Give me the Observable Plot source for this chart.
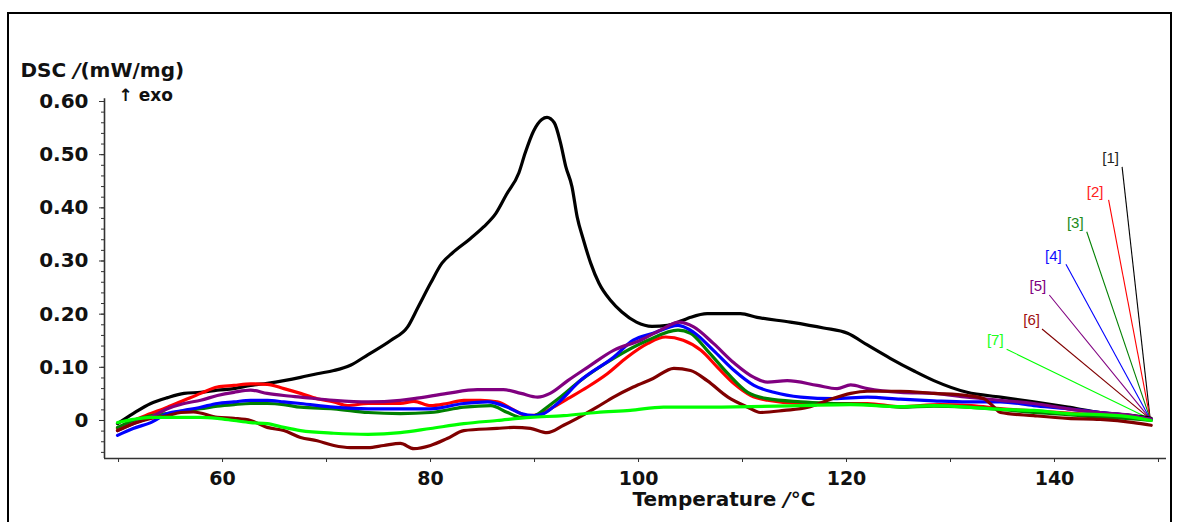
<!DOCTYPE html>
<html>
<head>
<meta charset="utf-8">
<script src="https://cdn.jsdelivr.net/npm/d3@7"></script>
<script src="https://cdn.jsdelivr.net/npm/@observablehq/plot@0.6"></script>
<style>
  html, body { margin: 0; padding: 0; background: #fff; overflow: hidden; width: 1184px; height: 522px; }
  #frame { position: absolute; left: 7px; top: 12px; width: 1165px; height: 600px; border: 2px solid #000; box-sizing: border-box; }
  #chart { position: absolute; left: 0; top: 0; }
</style>
</head>
<body>
<div id="frame"></div>
<div id="chart"></div>
<script>
// ---- Data (Temperature in °C, DSC in mW/mg) ----
const seriesIds = ["[1]", "[2]", "[3]", "[4]", "[5]", "[6]", "[7]"];
const seriesColors = ["#000000", "#ff0000", "#008000", "#0000ff", "#800080", "#800000", "#00ff00"];
const labelColors = ["#222222", "#ff2020", "#208a20", "#1010ff", "#800080", "#a01010", "#20ff20"];

const temp1 = [49.9, 51.4, 53.1, 54.7, 56.3, 57.9, 59.5, 61.1, 62.7, 64.3, 65.9, 67.5, 69.1, 70.7, 72.3, 74.0, 76.2, 77.8, 78.8, 80.0, 81.1, 82.1, 83.7, 85.1, 86.3, 87.3, 88.5, 89.1, 89.9, 90.7, 91.2, 91.9, 92.5, 93.0, 93.6, 94.1, 94.7, 95.4, 96.2, 97.3, 98.4, 99.8, 101.3, 102.8, 104.2, 105.0, 106.6, 109.8, 111.4, 114.6, 117.8, 120.1, 122.0, 124.2, 126.5, 128.4, 131.6, 134.8, 138.0, 141.3, 144.4, 147.6, 149.3];
const dsc1 = [-0.006, 0.013, 0.032, 0.043, 0.051, 0.053, 0.057, 0.060, 0.066, 0.070, 0.075, 0.081, 0.088, 0.094, 0.104, 0.124, 0.151, 0.176, 0.213, 0.258, 0.296, 0.315, 0.340, 0.364, 0.390, 0.425, 0.466, 0.503, 0.544, 0.566, 0.570, 0.560, 0.522, 0.478, 0.440, 0.383, 0.340, 0.296, 0.258, 0.226, 0.204, 0.185, 0.177, 0.179, 0.188, 0.194, 0.201, 0.201, 0.194, 0.185, 0.174, 0.164, 0.142, 0.117, 0.093, 0.075, 0.053, 0.044, 0.035, 0.025, 0.015, 0.009, 0.004];

const temp2 = [49.9, 51.4, 53.1, 54.7, 56.3, 57.9, 59.5, 61.1, 62.7, 64.3, 65.9, 67.5, 69.1, 70.7, 72.0, 74.0, 77.1, 78.4, 80.0, 81.6, 83.2, 84.8, 86.4, 88.0, 89.3, 90.6, 91.8, 93.2, 95.1, 97.0, 98.9, 100.9, 102.6, 104.3, 106.0, 107.6, 109.2, 110.8, 112.4, 115.6, 118.8, 122.0, 125.2, 129.0, 132.0, 135.0, 138.0, 141.3, 144.4, 147.6, 149.3];
const dsc2 = [-0.015, 0.000, 0.013, 0.025, 0.038, 0.051, 0.063, 0.066, 0.069, 0.068, 0.060, 0.051, 0.041, 0.035, 0.028, 0.032, 0.032, 0.036, 0.028, 0.032, 0.038, 0.038, 0.035, 0.020, 0.009, 0.012, 0.025, 0.041, 0.063, 0.088, 0.119, 0.145, 0.157, 0.151, 0.132, 0.100, 0.069, 0.047, 0.038, 0.032, 0.032, 0.032, 0.026, 0.030, 0.028, 0.022, 0.018, 0.014, 0.010, 0.005, 0.002];

const temp3 = [49.9, 51.4, 53.1, 54.7, 56.3, 57.9, 59.5, 61.1, 62.7, 64.3, 65.9, 67.5, 70.7, 74.0, 77.1, 80.0, 83.2, 85.8, 87.4, 88.7, 90.0, 91.2, 92.5, 94.4, 97.6, 100.9, 103.8, 105.0, 106.6, 108.6, 110.5, 112.4, 115.6, 118.8, 122.0, 125.2, 128.4, 131.6, 134.8, 138.0, 141.3, 144.4, 147.6, 149.3];
const dsc3 = [-0.013, 0.000, 0.009, 0.013, 0.018, 0.022, 0.027, 0.030, 0.032, 0.032, 0.030, 0.025, 0.022, 0.015, 0.013, 0.015, 0.025, 0.028, 0.015, 0.006, 0.009, 0.025, 0.044, 0.075, 0.117, 0.151, 0.170, 0.164, 0.132, 0.088, 0.053, 0.041, 0.035, 0.032, 0.030, 0.025, 0.027, 0.025, 0.021, 0.015, 0.011, 0.006, 0.003, 0.000];

const temp4 = [49.9, 51.4, 53.1, 54.7, 56.3, 57.9, 59.5, 61.1, 62.7, 64.3, 65.9, 67.5, 70.7, 74.0, 77.1, 80.0, 83.2, 85.5, 87.4, 88.7, 90.0, 90.9, 92.2, 94.4, 97.6, 99.5, 101.4, 103.8, 105.3, 107.2, 109.2, 111.1, 113.0, 115.6, 118.8, 122.0, 125.2, 128.4, 131.6, 134.8, 138.0, 141.3, 144.4, 147.6, 149.3];
const dsc4 = [-0.028, -0.015, -0.004, 0.013, 0.019, 0.025, 0.032, 0.035, 0.038, 0.038, 0.035, 0.032, 0.025, 0.022, 0.022, 0.022, 0.032, 0.035, 0.025, 0.013, 0.009, 0.013, 0.032, 0.075, 0.119, 0.151, 0.164, 0.179, 0.166, 0.132, 0.094, 0.066, 0.053, 0.044, 0.041, 0.044, 0.040, 0.037, 0.035, 0.035, 0.028, 0.022, 0.015, 0.008, 0.002];

const temp5 = [49.9, 51.4, 53.1, 54.7, 56.3, 57.9, 59.5, 61.1, 62.7, 64.3, 65.9, 67.5, 70.7, 74.0, 77.1, 78.4, 81.6, 84.5, 87.0, 88.7, 90.3, 91.5, 93.2, 95.1, 97.6, 100.2, 102.1, 103.9, 105.3, 107.2, 109.2, 111.1, 112.4, 114.3, 117.2, 119.1, 120.4, 122.0, 125.2, 128.4, 131.6, 134.8, 138.0, 141.3, 144.4, 147.6, 149.3];
const dsc5 = [-0.019, -0.006, 0.006, 0.022, 0.032, 0.038, 0.047, 0.053, 0.057, 0.051, 0.047, 0.044, 0.038, 0.035, 0.038, 0.041, 0.051, 0.058, 0.058, 0.051, 0.044, 0.051, 0.075, 0.100, 0.132, 0.151, 0.170, 0.185, 0.176, 0.145, 0.108, 0.081, 0.072, 0.075, 0.066, 0.060, 0.067, 0.060, 0.053, 0.051, 0.044, 0.038, 0.032, 0.022, 0.015, 0.009, 0.002];

const temp6 = [49.9, 51.4, 53.1, 54.7, 56.0, 57.2, 59.5, 61.1, 62.7, 64.3, 65.9, 67.5, 69.1, 70.7, 72.3, 74.0, 75.5, 77.1, 78.4, 80.0, 81.6, 83.2, 86.4, 88.0, 89.6, 91.2, 92.8, 94.1, 96.0, 97.6, 99.5, 101.4, 103.4, 105.0, 106.6, 108.6, 110.5, 111.7, 114.0, 116.3, 118.2, 120.4, 122.0, 125.2, 128.4, 131.6, 133.2, 134.2, 134.8, 138.0, 141.3, 144.4, 147.6, 149.3];
const dsc6 = [-0.019, -0.006, 0.004, 0.009, 0.015, 0.016, 0.006, 0.004, 0.000, -0.013, -0.019, -0.032, -0.038, -0.047, -0.051, -0.051, -0.047, -0.043, -0.053, -0.047, -0.034, -0.019, -0.015, -0.013, -0.015, -0.023, -0.009, 0.004, 0.025, 0.044, 0.063, 0.079, 0.098, 0.094, 0.075, 0.044, 0.025, 0.015, 0.019, 0.025, 0.038, 0.051, 0.055, 0.055, 0.051, 0.047, 0.041, 0.025, 0.015, 0.009, 0.004, 0.002, -0.004, -0.009];

const temp7 = [49.9, 51.4, 53.1, 54.7, 57.9, 59.5, 61.1, 62.7, 64.3, 65.9, 67.5, 70.7, 74.0, 77.1, 80.0, 83.2, 86.4, 89.6, 92.8, 96.0, 99.2, 102.4, 106.0, 110.8, 115.6, 120.4, 125.2, 128.4, 131.6, 134.8, 138.0, 141.3, 144.4, 147.6, 149.3];
const dsc7 = [-0.004, 0.002, 0.006, 0.006, 0.006, 0.004, 0.000, -0.004, -0.006, -0.013, -0.019, -0.024, -0.026, -0.023, -0.015, -0.006, 0.000, 0.006, 0.009, 0.015, 0.019, 0.025, 0.025, 0.026, 0.028, 0.030, 0.026, 0.028, 0.025, 0.021, 0.019, 0.013, 0.011, 0.006, 0.000];

// Legend callouts (anchor points in data units)
const legendLabelT = [145.4, 143.9, 142.0, 139.9, 138.4, 137.8, 134.3];
const legendLabelV = [0.494, 0.430, 0.372, 0.309, 0.253, 0.189, 0.151];
const legendLineT = [146.5, 145.2, 143.1, 141.1, 139.5, 138.8, 135.4];
const legendLineV = [0.477, 0.415, 0.355, 0.294, 0.236, 0.172, 0.134];
const legendEndT = 149.2;
const legendEndV = 0.003;

// Axes
const xDomain = [48.65, 150.77];
const yDomain = [-0.0715, 0.60];
const xTickValues = [50, 60, 70, 80, 90, 100, 110, 120, 130, 140, 150];
const xTickLabels = ["", "60", "", "80", "", "100", "", "120", "", "140", ""];
const yTickValues = [0, 0.1, 0.2, 0.3, 0.4, 0.5, 0.6];
const yTickLabels = ["0", "0.10", "0.20", "0.30", "0.40", "0.50", "0.60"];
const yMinorTicks = d3.range(-3, 31).map(i => i * 0.02);

const xTitle = "Temperature /°C";
const yTitle = "DSC /(mW/mg)";
const exoLabel = "↑ exo";

// ---- Build tables ----
const temps = [temp1, temp2, temp3, temp4, temp5, temp6, temp7];
const dscs = [dsc1, dsc2, dsc3, dsc4, dsc5, dsc6, dsc7];
const rows = [];
temps.forEach((T, s) => T.forEach((t, i) => rows.push({ id: seriesIds[s], t, v: dscs[s][i] })));
const legend = seriesIds.map((id, i) => ({
  id, color: seriesColors[i], labelColor: labelColors[i],
  lt: legendLabelT[i], lv: legendLabelV[i],
  x1: legendLineT[i], y1: legendLineV[i], x2: legendEndT, y2: legendEndV
}));

const boldFont = "DejaVu Sans, Arial, sans-serif";

const chart = Plot.plot({
  width: 1184,
  height: 522,
  marginLeft: 104,
  marginRight: 18,
  marginTop: 101,
  marginBottom: 64,
  style: { fontFamily: boldFont, background: "transparent", overflow: "visible" },
  x: { domain: xDomain, label: null },
  y: { domain: yDomain, label: null },
  color: { domain: seriesIds, range: seriesColors },
  marks: [
    // axis lines
    Plot.ruleX([xDomain[0]], { y1: yDomain[0], y2: 0.605, stroke: "#333", strokeWidth: 1.6 }),
    Plot.ruleY([yDomain[0]], { x1: xDomain[0], x2: xDomain[1], stroke: "#333", strokeWidth: 1.6 }),
    // minor y ticks
    Plot.axisY({ ticks: yMinorTicks, tickSize: 3, tickFormat: () => "", label: null, stroke: "#333" }),
    // major y ticks with labels
    Plot.axisY({
      ticks: yTickValues, tickSize: 5, tickPadding: 11, label: null,
      tickFormat: d => yTickLabels[yTickValues.findIndex(v => Math.abs(v - d) < 1e-9)],
      fontSize: 20, fontWeight: "bold", fill: "#111", stroke: "#333"
    }),
    // x ticks
    Plot.axisX({
      ticks: xTickValues, tickSize: 4, tickPadding: 9, label: null,
      tickFormat: d => xTickLabels[xTickValues.indexOf(d)],
      fontSize: 19, fontWeight: "bold", fill: "#111", stroke: "#333"
    }),
    // legend leader lines
    Plot.link(legend, { x1: "x1", y1: "y1", x2: "x2", y2: "y2", stroke: "color", strokeWidth: 1.1 }),
    Plot.text(legend, { x: "lt", y: "lv", text: "id", fill: "labelColor", fontSize: 15, fontFamily: "Liberation Sans, Arial, sans-serif" }),
    // curves
    Plot.line(rows, { x: "t", y: "v", z: "id", stroke: "id", strokeWidth: 3.2, curve: "monotone-x", strokeLinejoin: "round" }),
    // titles
    Plot.text([yTitle], { frameAnchor: "top-left", dx: -84, dy: -39, textAnchor: "start", fontSize: 20, fontWeight: "bold", fill: "#111" }),
    Plot.text([exoLabel], { frameAnchor: "top-left", dx: 14, dy: -13, textAnchor: "start", fontSize: 17, fontWeight: "bold", fill: "#111" }),
    Plot.text([xTitle], { frameAnchor: "bottom", dx: -3, dy: 47, textAnchor: "start", fontSize: 20, fontWeight: "bold", fill: "#111" })
  ]
});

// italic slash in unit labels
d3.select(chart).selectAll("text").each(function () {
  const t = this.textContent;
  const idx = t.indexOf(" /");
  if ((t === yTitle || t === xTitle) && idx >= 0) {
    const sel = d3.select(this);
    sel.text(null);
    sel.append("tspan").text(t.slice(0, idx + 1));
    sel.append("tspan").attr("font-style", "italic").text("/");
    sel.append("tspan").text(t.slice(idx + 2));
  }
});

document.getElementById("chart").appendChild(chart);
</script>
</body>
</html>
